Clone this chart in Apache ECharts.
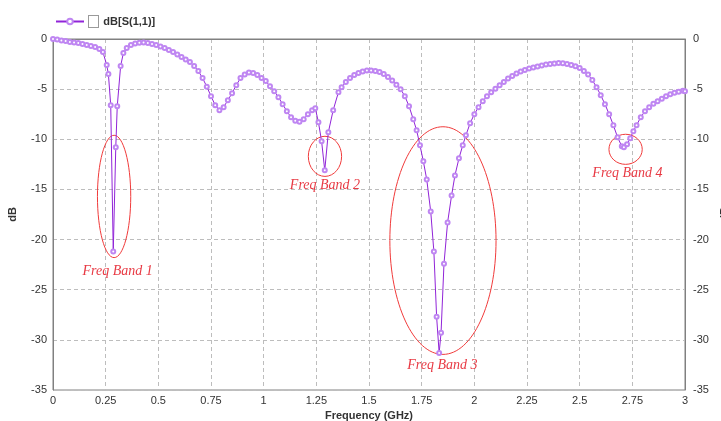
<!DOCTYPE html>
<html>
<head>
<meta charset="utf-8">
<script src="https://cdn.jsdelivr.net/npm/echarts@6/dist/echarts.min.js"></script>
<style>
  html, body { margin: 0; padding: 0; background: #fff; }
  #chart-container { width: 721px; height: 421px; }
</style>
</head>
<body>
<div id="chart-container"></div>
<script>
// 頻率 (GHz)
var freq = [
    0.00, 0.02, 0.04, 0.06, 0.08, 0.10, 0.12, 0.14, 0.16, 0.18, 0.20, 0.22, 0.237, 0.255, 0.263, 0.274, 0.286, 0.298, 0.305, 0.321, 0.334,
    0.35, 0.37, 0.39, 0.41, 0.43, 0.45, 0.47, 0.49, 0.51, 0.53, 0.55, 0.57, 0.59, 0.61, 0.63, 0.65, 0.67, 0.69, 0.71, 0.73, 0.75, 0.77, 0.79,
    0.81, 0.83, 0.85, 0.87, 0.89, 0.91, 0.93, 0.95, 0.97, 0.99, 1.01, 1.03, 1.05, 1.07, 1.09, 1.11, 1.13, 1.15, 1.17, 1.19, 1.21, 1.23, 1.245,
    1.26, 1.275, 1.29, 1.307, 1.33, 1.355, 1.37, 1.39, 1.41, 1.43, 1.45, 1.47, 1.49, 1.51, 1.53, 1.55, 1.57, 1.59, 1.61, 1.63, 1.65, 1.67,
    1.69, 1.71, 1.726, 1.742, 1.758, 1.774, 1.793, 1.808, 1.821, 1.833, 1.842, 1.856, 1.873, 1.892, 1.908, 1.927, 1.945, 1.96, 1.98,
    2.00, 2.02, 2.04, 2.06, 2.08, 2.10, 2.12, 2.14, 2.16, 2.18, 2.20, 2.22, 2.24, 2.26, 2.28, 2.30, 2.32, 2.34, 2.36, 2.38, 2.40, 2.42,
    2.44, 2.46, 2.48, 2.50, 2.52, 2.54, 2.56, 2.58, 2.60, 2.62, 2.64, 2.66, 2.68, 2.70, 2.71, 2.725, 2.74, 2.755, 2.77, 2.79, 2.81, 2.83,
    2.85, 2.87, 2.89, 2.91, 2.93, 2.95, 2.97, 2.99, 3.00
];
// dB[S(1,1)]
var s11 = [
    0, -0.05, -0.15, -0.2, -0.3, -0.35, -0.4, -0.5, -0.6, -0.7, -0.8, -1.0, -1.3, -2.6, -3.5, -6.6, -21.2, -10.8, -6.7, -2.7, -1.4,
    -0.9, -0.6, -0.45, -0.38, -0.35, -0.4, -0.5, -0.6, -0.75, -0.9, -1.1, -1.3, -1.55, -1.8, -2.05, -2.3, -2.7, -3.2, -3.9, -4.75, -5.7, -6.6, -7.1,
    -6.8, -6.1, -5.4, -4.6, -3.9, -3.55, -3.35, -3.4, -3.6, -3.9, -4.2, -4.7, -5.2, -5.8, -6.5, -7.2, -7.8, -8.15, -8.25, -8.0, -7.5, -7.1, -6.9,
    -8.3, -10.2, -13.1, -9.3, -7.1, -5.3, -4.8, -4.3, -3.9, -3.6, -3.4, -3.25, -3.15, -3.15, -3.2, -3.3, -3.5, -3.8, -4.15, -4.55, -5.0, -5.7,
    -6.7, -8.0, -9.1, -10.6, -12.2, -14.0, -17.2, -21.2, -27.7, -31.3, -29.3, -22.4, -18.3, -15.6, -13.6, -11.9, -10.6, -9.6, -8.4,
    -7.5, -6.8, -6.2, -5.7, -5.3, -4.95, -4.6, -4.3, -3.95, -3.7, -3.45, -3.25, -3.1, -2.95, -2.85, -2.75, -2.65, -2.55, -2.5, -2.45, -2.4, -2.42,
    -2.5, -2.6, -2.72, -2.9, -3.2, -3.55, -4.1, -4.8, -5.6, -6.5, -7.5, -8.6, -9.8, -10.7, -10.8, -10.5, -9.9, -9.2, -8.6, -7.8, -7.2, -6.8,
    -6.45, -6.2, -5.95, -5.7, -5.5, -5.35, -5.25, -5.15, -5.2
];

// 頻段標註 (中心頻率, 中心dB, 半寬GHz, 半高dB, 文字位置)
var bandNames = ['Freq Band 1', 'Freq Band 2', 'Freq Band 3', 'Freq Band 4'];
var bandCenterF = [0.29, 1.291, 1.851, 2.718];
var bandCenterDb = [-15.7, -11.7, -20.1, -11.0];
var bandHalfF = [0.079, 0.079, 0.252, 0.079];
var bandHalfDb = [6.1, 2.0, 11.35, 1.5];
var bandLabelF = [0.307, 1.291, 1.848, 2.727];
var bandLabelDb = [-23.2, -14.6, -32.5, -13.4];

var xTicks = { min: 0, max: 3, interval: 0.25 };
var yTicks = { min: -35, max: 0, interval: 5 };

var s11Data = freq.map(function(f, i) { return [f, s11[i]]; });
var bandData = bandNames.map(function(n, i) {
    return [bandCenterF[i], bandCenterDb[i], bandHalfF[i], bandHalfDb[i], bandLabelF[i], bandLabelDb[i]];
});

var chart = echarts.init(document.getElementById('chart-container'));

var axisFont = { color: '#333', fontSize: 11, fontFamily: 'Liberation Sans' };
var gridLine = { show: true, lineStyle: { color: '#bdbdbd', type: [4, 3], width: 1 } };

var option = {
    animation: false,
    grid: {
        left: 53, right: 36, top: 39, bottom: 31,
        outerBoundsMode: 'none',
        containLabel: false,
        show: true, borderColor: '#808080', borderWidth: 1
    },
    legend: {
        left: 50, top: 10,
        itemWidth: 28, itemHeight: 7,
        data: ['dB[S(1,1)]'],
        formatter: '{b|} {a|{name}}',
        textStyle: {
            rich: {
                b: { width: 9, height: 11, borderColor: '#9a9a9a', borderWidth: 1, backgroundColor: '#fff' },
                a: { fontWeight: 'bold', fontSize: 11, color: '#333', fontFamily: 'Liberation Sans', padding: [0, 0, 0, 2] }
            }
        }
    },
    xAxis: {
        type: 'value',
        min: xTicks.min, max: xTicks.max, interval: xTicks.interval,
        name: 'Frequency (GHz)', nameLocation: 'middle', nameGap: 17,
        nameTextStyle: { fontWeight: 'bold', fontSize: 11, color: '#333', fontFamily: 'Liberation Sans' },
        axisLine: { lineStyle: { color: '#808080' } },
        axisTick: { show: false },
        axisLabel: Object.assign({ margin: 5 }, axisFont),
        splitLine: gridLine
    },
    yAxis: [{
            type: 'value',
            position: 'left',
            min: yTicks.min, max: yTicks.max, interval: yTicks.interval,
            name: 'dB', nameLocation: 'middle', nameGap: 35, nameRotate: 90,
            nameTextStyle: { fontWeight: 'bold', fontSize: 11, color: '#333', fontFamily: 'Liberation Sans' },
            axisLine: { show: true, lineStyle: { color: '#808080' } },
            axisTick: { show: false },
            axisLabel: Object.assign({ margin: 6 }, axisFont),
            splitLine: gridLine
        },
        {
            type: 'value',
            position: 'right',
            min: yTicks.min, max: yTicks.max, interval: yTicks.interval,
            name: 'dB', nameLocation: 'middle', nameGap: 31, nameRotate: 90,
            nameTextStyle: { fontWeight: 'bold', fontSize: 11, color: '#333', fontFamily: 'Liberation Sans' },
            axisLine: { show: true, lineStyle: { color: '#808080' } },
            axisTick: { show: false },
            axisLabel: Object.assign({ margin: 8 }, axisFont),
            splitLine: { show: false }
        }
    ],
    series: [{
            name: 'dB[S(1,1)]',
            type: 'line',
            data: s11Data,
            symbol: 'emptyCircle',
            symbolSize: 4,
            showAllSymbol: true,
            lineStyle: { color: '#9124d8', width: 1 },
            itemStyle: { color: '#bf86f2', borderColor: '#bf86f2', borderWidth: 1 }
        },
        {
            name: 'bands',
            type: 'custom',
            silent: true,
            clip: false,
            data: bandData,
            renderItem: function(params, api) {
                var c = api.coord([api.value(0), api.value(1)]);
                var s = api.size([api.value(2), api.value(3)]);
                var t = api.coord([api.value(4), api.value(5)]);
                return {
                    type: 'group',
                    children: [{
                            type: 'ellipse',
                            shape: { cx: c[0], cy: c[1], rx: s[0], ry: s[1] },
                            style: { fill: 'none', stroke: '#f03a3a', lineWidth: 1 }
                        },
                        {
                            type: 'text',
                            x: t[0], y: t[1],
                            style: {
                                text: bandNames[params.dataIndex],
                                fill: '#e83a44',
                                font: 'italic 14px "Liberation Serif"',
                                align: 'center', verticalAlign: 'middle'
                            }
                        }
                    ]
                };
            }
        }
    ]
};

chart.setOption(option);
</script>
</body>
</html>
